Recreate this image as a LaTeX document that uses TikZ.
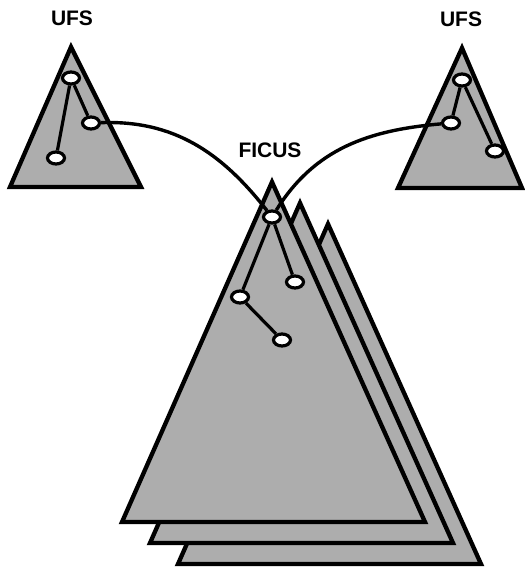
\documentclass[tikz,border=0pt]{standalone}
\usepackage{fontspec}
\setsansfont{Liberation Sans}
\usetikzlibrary{calc, shapes.geometric}
\definecolor{stipple}{gray}{0.68}

\begin{document}
\begin{tikzpicture}[x=1pt,y=-1pt,
    tri/.style={draw, fill=stipple, line width=4.3pt, line join=miter},
    dir/.style={ellipse, draw, fill=white, line width=3.2pt, minimum width=17pt, minimum height=12pt, inner sep=0pt},
    edge/.style={line width=3.2pt},
    link/.style={line width=3.4pt},
    lbl/.style={font=\sffamily\bfseries\fontsize{21}{24}\selectfont, inner sep=0pt}]
            \useasboundingbox (0,0) rectangle (524,569);
            \node[lbl] (ufsa) at (72,18) {UFS};
            \node[lbl] (ufsb) at (461,19) {UFS};
            \node[lbl] (ficus) at (270,150) {FICUS};
            \draw[tri] (71,47) -- (141,187) -- (10,187) -- cycle;
            \draw[tri] (462,48) -- (522,188) -- (398,188) -- cycle;
            \foreach \d in {2,1,0}
                \draw[tri] ($(272,182)+\d*(28,21)$) -- ($(425,522)+\d*(28,21)$) -- ($(122,522)+\d*(28,21)$) -- cycle;
            \node[dir] (a1) at (71,78) {};
            \node[dir] (a2) at (91,123) {};
            \node[dir] (a3) at (56,158) {};
            \node[dir] (b1) at (462,80) {};
            \node[dir] (b2) at (451,123) {};
            \node[dir] (b3) at (495,151) {};
            \node[dir] (f1) at (272,217) {};
            \node[dir] (f2) at (295,282) {};
            \node[dir] (f3) at (240,297) {};
            \node[dir] (f4) at (282,340) {};
            \draw[edge] (a1) -- (a2);
            \draw[edge] (a1) -- (a3);
            \draw[edge] (b1) -- (b2);
            \draw[edge] (b1) -- (b3);
            \draw[edge] (f1) -- (f2);
            \draw[edge] (f1) -- (f3);
            \draw[edge] (f3) -- (f4);
            \draw[link] (a2) to[out=2, in=128] (f1);
            \draw[link] (b2) to[out=185, in=58] (f1);
        \end{tikzpicture}
\end{document}
